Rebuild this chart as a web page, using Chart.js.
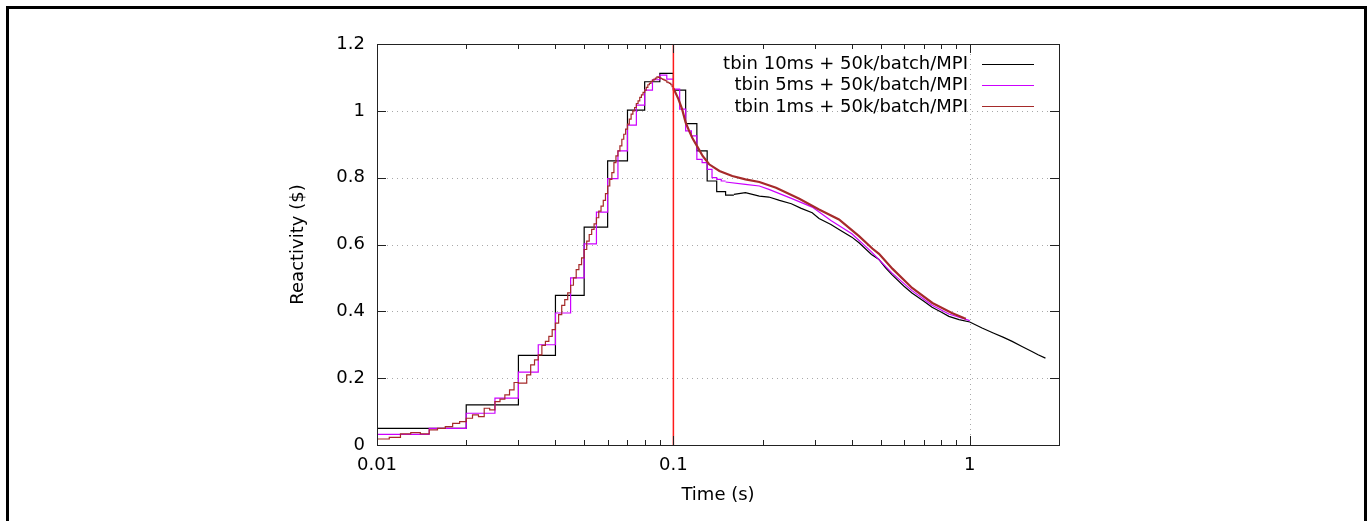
<!DOCTYPE html>
<html>
<head>
<meta charset="utf-8">
<script src="https://cdn.jsdelivr.net/npm/chart.js@4"></script>
<style>
  html, body { margin: 0; padding: 0; background: #fff; }
  canvas { display: block; }
</style>
</head>
<body>
<canvas id="chart" width="1370" height="521"></canvas>
<script>
// series labels / colours
const seriesLabels = ["tbin 10ms + 50k/batch/MPI", "tbin 5ms + 50k/batch/MPI", "tbin 1ms + 50k/batch/MPI"];
const seriesColors = ["#000000", "#cc00ff", "#a52a2a"];

// axis ticks
const xMajorTicks = [0.01, 0.1, 1];
const xMinorTicks = [0.02, 0.03, 0.04, 0.05, 0.06, 0.07, 0.08, 0.09, 0.2, 0.3, 0.4, 0.5, 0.6, 0.7, 0.8, 0.9];
const xTickLabels = ["0.01", "0.1", "1"];
const yTicks = [0, 0.2, 0.4, 0.6, 0.8, 1, 1.2];
const yTickLabels = ["0", "0.2", "0.4", "0.6", "0.8", "1", "1.2"];

// tbin 10ms: binned values from t = 0.01 s, then the fine tail
const black10msStart = 0.01;
const black10msValues = [0.050, 0.120, 0.268, 0.448, 0.652, 0.850, 1.002, 1.087, 1.112, 1.062, 0.962, 0.880, 0.790, 0.758, 0.748];
const blackTailT = [0.16, 0.175, 0.195, 0.21, 0.228, 0.25, 0.27, 0.294, 0.31, 0.34, 0.362, 0.40, 0.423, 0.466, 0.494, 0.52, 0.546, 0.60, 0.638, 0.70, 0.746, 0.80, 0.85, 0.92, 1.0, 1.1, 1.2, 1.3, 1.39, 1.5, 1.62, 1.7, 1.8];
const blackTailV = [0.750, 0.755, 0.745, 0.742, 0.732, 0.722, 0.708, 0.695, 0.678, 0.660, 0.645, 0.622, 0.605, 0.570, 0.555, 0.530, 0.510, 0.475, 0.455, 0.430, 0.412, 0.398, 0.385, 0.375, 0.368, 0.350, 0.335, 0.322, 0.310, 0.295, 0.280, 0.270, 0.260];

// tbin 5ms
const mag5msStart = 0.01;
const mag5msValues = [0.032, 0.050, 0.095, 0.140, 0.218, 0.300, 0.395, 0.500, 0.602, 0.697,
                      0.797, 0.880, 0.957, 1.017, 1.062, 1.093, 1.107, 1.095, 1.065, 1.005,
                      0.940, 0.925, 0.855, 0.845, 0.825, 0.800, 0.795, 0.790];
const magTailT = [0.150, 0.175, 0.195, 0.21, 0.25, 0.294, 0.34, 0.40, 0.466, 0.546, 0.638, 0.746, 0.85, 1.0];
const magTailV = [0.787, 0.780, 0.775, 0.765, 0.738, 0.712, 0.672, 0.632, 0.578, 0.515, 0.462, 0.418, 0.392, 0.372];

// tbin 1ms
const red1msStart = 0.01;
const red1msValues = [
  0.018, 0.023, 0.033, 0.037, 0.033, 0.045, 0.050, 0.055, 0.065, 0.070,
  0.080, 0.090, 0.085, 0.110, 0.105, 0.130, 0.137, 0.150, 0.165, 0.187,
  0.185, 0.185, 0.210, 0.240, 0.255, 0.270, 0.298, 0.310, 0.325, 0.345,
  0.365, 0.390, 0.418, 0.435, 0.455, 0.478, 0.500, 0.525, 0.540, 0.560,
  0.585, 0.610, 0.630, 0.645, 0.662, 0.680, 0.700, 0.715, 0.732, 0.752,
  0.775, 0.795, 0.815, 0.845, 0.865, 0.880, 0.895, 0.915, 0.930, 0.945,
  0.960, 0.975, 0.990, 1.000, 1.010, 1.022, 1.030, 1.040, 1.048, 1.055,
  1.062, 1.070, 1.078, 1.082, 1.088, 1.092, 1.095, 1.098, 1.102, 1.100,
  1.098, 1.096, 1.094, 1.092, 1.090, 1.086, 1.084, 1.082, 1.078, 1.072
];
const redTailT = [0.100, 0.104, 0.107, 0.110, 0.113, 0.116, 0.121, 0.1255, 0.132, 0.143, 0.158, 0.175, 0.195, 0.222, 0.266, 0.31, 0.362, 0.423, 0.469, 0.494, 0.549, 0.639, 0.748, 0.87, 0.955, 0.97];
const redTailV = [1.068, 1.035, 1.005, 0.965, 0.940, 0.918, 0.890, 0.865, 0.840, 0.820, 0.805, 0.795, 0.787, 0.770, 0.737, 0.705, 0.675, 0.625, 0.588, 0.572, 0.527, 0.470, 0.425, 0.395, 0.380, 0.378];

// vertical marker at t = 0.1 s
const markerT = 0.1;

function binSteps(start, width, values) {
  const pts = values.map((v, i) => ({ x: +(start + i * width).toFixed(4), y: v }));
  pts.push({ x: +(start + values.length * width).toFixed(4), y: values[values.length - 1] });
  return pts;
}
function pairs(ts, vs) {
  return ts.map((t, i) => ({ x: t, y: vs[i] }));
}

const FONT = "'DejaVu Sans', sans-serif";

function lineSet(data, color, order, stepped, width) {
  return {
    data: data,
    borderColor: color,
    borderWidth: width || 1,
    pointRadius: 0,
    stepped: stepped,
    tension: 0,
    fill: false,
    order: order
  };
}

const framePlugin = {
  id: "frame",
  beforeDraw(chart) {
    const ctx = chart.ctx;
    ctx.save();
    ctx.fillStyle = "#fff";
    ctx.fillRect(0, 0, chart.width, chart.height);
    // outer frame (no bottom edge)
    ctx.strokeStyle = "#000";
    ctx.lineWidth = 3;
    ctx.beginPath();
    ctx.moveTo(7.5, chart.height + 5);
    ctx.lineTo(7.5, 7.5);
    ctx.lineTo(1365.5, 7.5);
    ctx.lineTo(1365.5, chart.height + 5);
    ctx.stroke();
    ctx.restore();
  },
  beforeDatasetsDraw(chart) {
    const { ctx, chartArea: a, scales: { x, y } } = chart;
    ctx.save();
    ctx.strokeStyle = "#a8a8a8";
    ctx.lineWidth = 1;
    ctx.setLineDash([1, 4]);
    yTicks.slice(1, -1).forEach(v => {
      const py = Math.round(y.getPixelForValue(v)) + 0.5;
      ctx.beginPath();
      ctx.moveTo(a.left, py);
      ctx.lineTo(a.right, py);
      ctx.stroke();
    });
    xMajorTicks.slice(1).forEach(v => {
      const px = Math.round(x.getPixelForValue(v)) + 0.5;
      ctx.beginPath();
      ctx.moveTo(px, a.top);
      ctx.lineTo(px, a.bottom);
      ctx.stroke();
    });
    ctx.restore();
  },
  afterDatasetsDraw(chart) {
    const { ctx, chartArea: a, scales: { x, y } } = chart;
    ctx.save();
    ctx.strokeStyle = "#222";
    ctx.lineWidth = 1;
    ctx.strokeRect(a.left + 0.5, a.top + 0.5, a.right - a.left, a.bottom - a.top);
    ctx.beginPath();
    yTicks.forEach(v => {
      const py = Math.round(y.getPixelForValue(v)) + 0.5;
      ctx.moveTo(a.left, py); ctx.lineTo(a.left + 9, py);
      ctx.moveTo(a.right, py); ctx.lineTo(a.right - 9, py);
    });
    xMajorTicks.forEach(v => {
      const px = Math.round(x.getPixelForValue(v)) + 0.5;
      ctx.moveTo(px, a.bottom); ctx.lineTo(px, a.bottom - 9);
      ctx.moveTo(px, a.top); ctx.lineTo(px, a.top + 9);
    });
    xMinorTicks.forEach(v => {
      const px = Math.round(x.getPixelForValue(v)) + 0.5;
      ctx.moveTo(px, a.bottom); ctx.lineTo(px, a.bottom - 5);
      ctx.moveTo(px, a.top); ctx.lineTo(px, a.top + 5);
    });
    ctx.stroke();

    // legend, gnuplot style (top right, inside)
    ctx.font = "18px " + FONT;
    ctx.textAlign = "right";
    ctx.textBaseline = "middle";
    seriesLabels.forEach((label, i) => {
      const ly = 63.5 + i * 21.2;
      ctx.fillStyle = "#000";
      ctx.fillText(label, 968, ly + 1);
      ctx.strokeStyle = seriesColors[i];
      ctx.lineWidth = 1.2;
      ctx.beginPath();
      ctx.moveTo(982, Math.round(ly) + 0.5);
      ctx.lineTo(1034, Math.round(ly) + 0.5);
      ctx.stroke();
    });
    ctx.restore();
  }
};

new Chart(document.getElementById("chart"), {
  type: "line",
  data: {
    datasets: [
      lineSet([{ x: markerT, y: 0 }, { x: markerT, y: 1.2 }], "#ff1a1a", 0, false, 1.5),
      lineSet(binSteps(red1msStart, 0.001, red1msValues), seriesColors[2], 1, "before", 1.2),
      lineSet(pairs(redTailT, redTailV), seriesColors[2], 1, false, 2.2),
      lineSet(binSteps(mag5msStart, 0.005, mag5msValues), seriesColors[1], 2, "before", 1.2),
      lineSet(pairs(magTailT, magTailV), seriesColors[1], 2, false, 1.2),
      lineSet(binSteps(black10msStart, 0.01, black10msValues), seriesColors[0], 3, "before", 1.2),
      lineSet(pairs(blackTailT, blackTailV), seriesColors[0], 3, false, 1.2)
    ]
  },
  options: {
    responsive: false,
    animation: false,
    devicePixelRatio: 1,
    layout: { padding: { top: 44, right: 311, left: 0, bottom: 0 } },
    plugins: { legend: { display: false }, tooltip: { enabled: false } },
    scales: {
      x: {
        type: "logarithmic",
        min: 0.01,
        max: 2,
        afterFit: s => { s.height = 76; },
        afterBuildTicks: s => {
          s.ticks = xMajorTicks.concat(xMinorTicks).sort((p, q) => p - q).map(v => ({ value: v }));
        },
        grid: { display: false, drawTicks: false },
        border: { display: false },
        ticks: {
          autoSkip: false,
          maxRotation: 0,
          padding: 10,
          color: "#000",
          font: { family: FONT, size: 18 },
          callback: v => {
            const i = xMajorTicks.indexOf(v);
            return i >= 0 ? xTickLabels[i] : "";
          }
        },
        title: {
          display: true,
          text: "Time (s)",
          color: "#000",
          font: { family: FONT, size: 18 },
          padding: { top: 0, bottom: 15 }
        }
      },
      y: {
        type: "linear",
        min: 0,
        max: 1.2,
        afterFit: s => { s.width = 377; },
        afterBuildTicks: s => { s.ticks = yTicks.map(v => ({ value: v })); },
        grid: { display: false, drawTicks: false },
        border: { display: false },
        ticks: {
          padding: 12,
          color: "#000",
          font: { family: FONT, size: 18 },
          callback: v => {
            const i = yTicks.indexOf(v);
            return i >= 0 ? yTickLabels[i] : "";
          }
        },
        title: {
          display: true,
          text: "Reactivity ($)",
          color: "#000",
          font: { family: FONT, size: 18 },
          padding: { top: 288, bottom: 0 }
        }
      }
    }
  },
  plugins: [framePlugin]
});
</script>
</body>
</html>
